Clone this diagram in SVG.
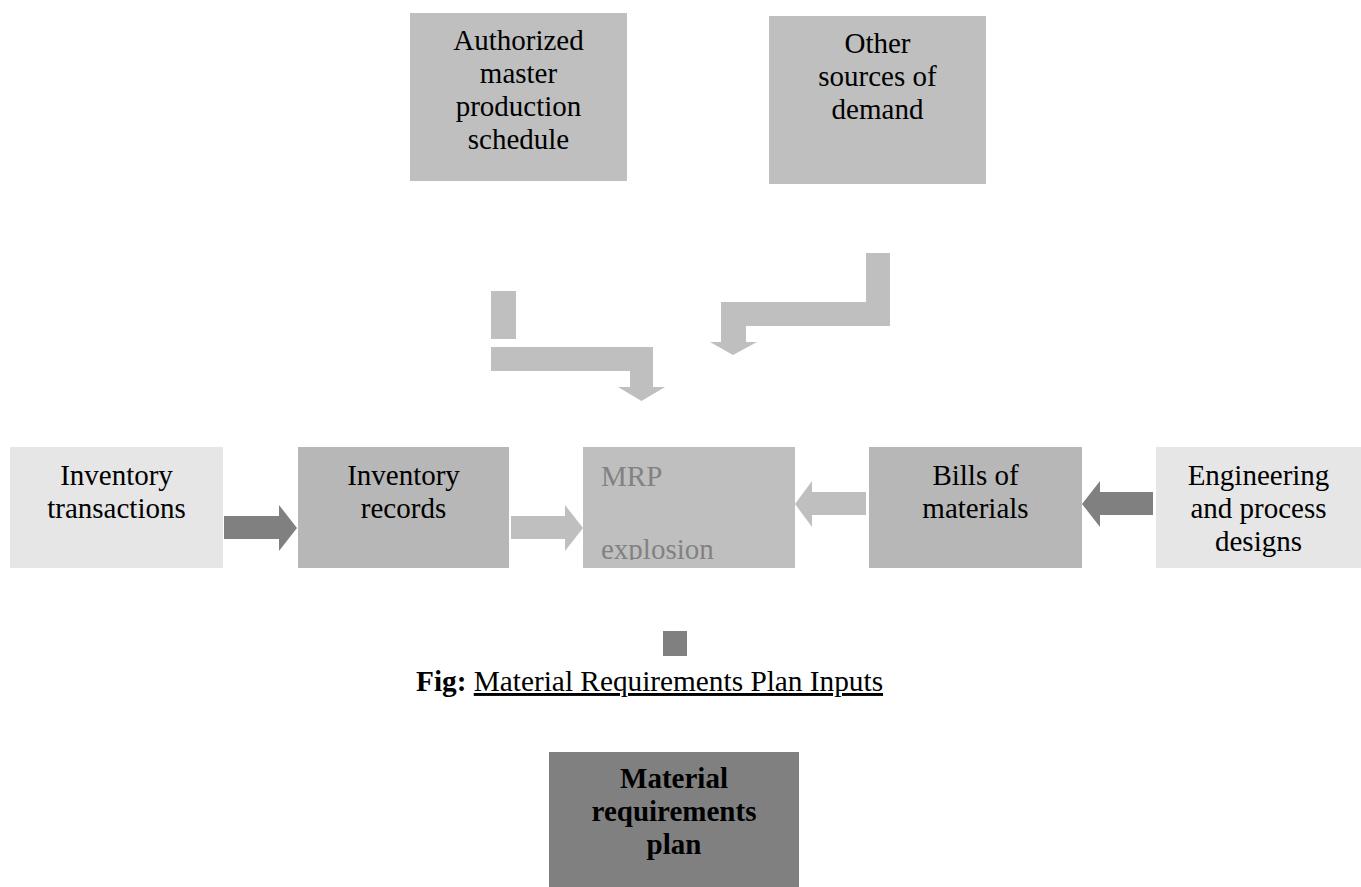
<svg xmlns="http://www.w3.org/2000/svg" width="1361" height="887" viewBox="0 0 1361 887">
  <style>
    .t { font-family: "Liberation Serif", "Times New Roman", serif; font-size: 29px; fill: #000; text-anchor: middle; }
    .b { font-weight: bold; }
    .light { fill: #e6e6e6; }
    .mid { fill: #b7b7b7; }
    .soft { fill: #bfbfbf; }
    .dark { fill: #808080; }
  </style>
  <defs>
    <clipPath id="mrpClip">
      <rect x="583" y="447" width="212" height="113"/>
    </clipPath>
  </defs>
  <rect width="1361" height="887" fill="#ffffff"/>

  <!-- Top sources -->
  <g id="node-mps">
    <rect class="soft" x="410" y="13" width="217" height="168"/>
    <text class="t" x="518.5" y="50">Authorized</text>
    <text class="t" x="518.5" y="83">master</text>
    <text class="t" x="518.5" y="116">production</text>
    <text class="t" x="518.5" y="149">schedule</text>
  </g>
  <g id="node-other-demand">
    <rect class="soft" x="769" y="16" width="217" height="168"/>
    <text class="t" x="877.5" y="53">Other</text>
    <text class="t" x="877.5" y="86">sources of</text>
    <text class="t" x="877.5" y="119">demand</text>
  </g>

  <!-- Middle row -->
  <g id="node-inv-transactions">
    <rect class="light" x="10" y="447" width="213" height="121"/>
    <text class="t" x="116.5" y="485">Inventory</text>
    <text class="t" x="116.5" y="518">transactions</text>
  </g>
  <g id="node-inv-records">
    <rect class="mid" x="298" y="447" width="211" height="121"/>
    <text class="t" x="403.5" y="485">Inventory</text>
    <text class="t" x="403.5" y="518">records</text>
  </g>
  <g id="node-mrp-explosion">
    <rect class="soft" x="583" y="447" width="212" height="121"/>
    <g clip-path="url(#mrpClip)">
      <text class="t" x="601" y="486" style="text-anchor:start; fill:#828282">MRP</text>
      <text class="t" x="601" y="559" style="text-anchor:start; fill:#828282">explosion</text>
    </g>
  </g>
  <g id="node-bom">
    <rect class="mid" x="869" y="447" width="213" height="121"/>
    <text class="t" x="975.5" y="485">Bills of</text>
    <text class="t" x="975.5" y="518">materials</text>
  </g>
  <g id="node-engineering">
    <rect class="light" x="1156" y="447" width="205" height="121"/>
    <text class="t" x="1258.5" y="485">Engineering</text>
    <text class="t" x="1258.5" y="518">and process</text>
    <text class="t" x="1258.5" y="551">designs</text>
  </g>

  <!-- Block arrows -->
  <g id="connectors">
    <!-- MPS down into MRP -->
    <rect class="soft" x="491" y="291" width="25" height="48"/>
    <polygon class="soft" points="491,347 653,347 653,387 665,387 641.5,401 618,387 630,387 630,371 491,371"/>
    <!-- other demand down into MRP -->
    <polygon class="soft" points="866,253 890,253 890,326 746,326 746,342 757,342 733,355 710,342 721,342 721,302 866,302"/>
    <!-- transactions to records -->
    <polygon class="dark" points="224,516 279,516 279,505 297,528 279,551 279,539 224,539"/>
    <!-- records to MRP -->
    <polygon class="soft" points="511,516 565,516 565,505 583,528 565,551 565,539 511,539"/>
    <!-- BOM to MRP -->
    <polygon class="soft" points="866,492 812,492 812,481 795,504 812,527 812,515 866,515"/>
    <!-- engineering to BOM -->
    <polygon class="dark" points="1153,492 1100,492 1100,481 1082,504 1100,527 1100,515 1153,515"/>
  </g>

  <!-- Caption -->
  <g id="caption">
    <rect class="dark" x="663" y="631" width="24" height="25"/>
    <text class="t" x="416" y="691" style="text-anchor:start; font-size:29.3px"><tspan class="b">Fig:</tspan> <tspan text-decoration="underline">Material Requirements Plan Inputs</tspan></text>
  </g>

  <!-- Output -->
  <g id="node-mrp-plan">
    <rect class="dark" x="549" y="752" width="250" height="135"/>
    <text class="t b" x="674" y="788">Material</text>
    <text class="t b" x="674" y="821">requirements</text>
    <text class="t b" x="674" y="854">plan</text>
  </g>
</svg>
